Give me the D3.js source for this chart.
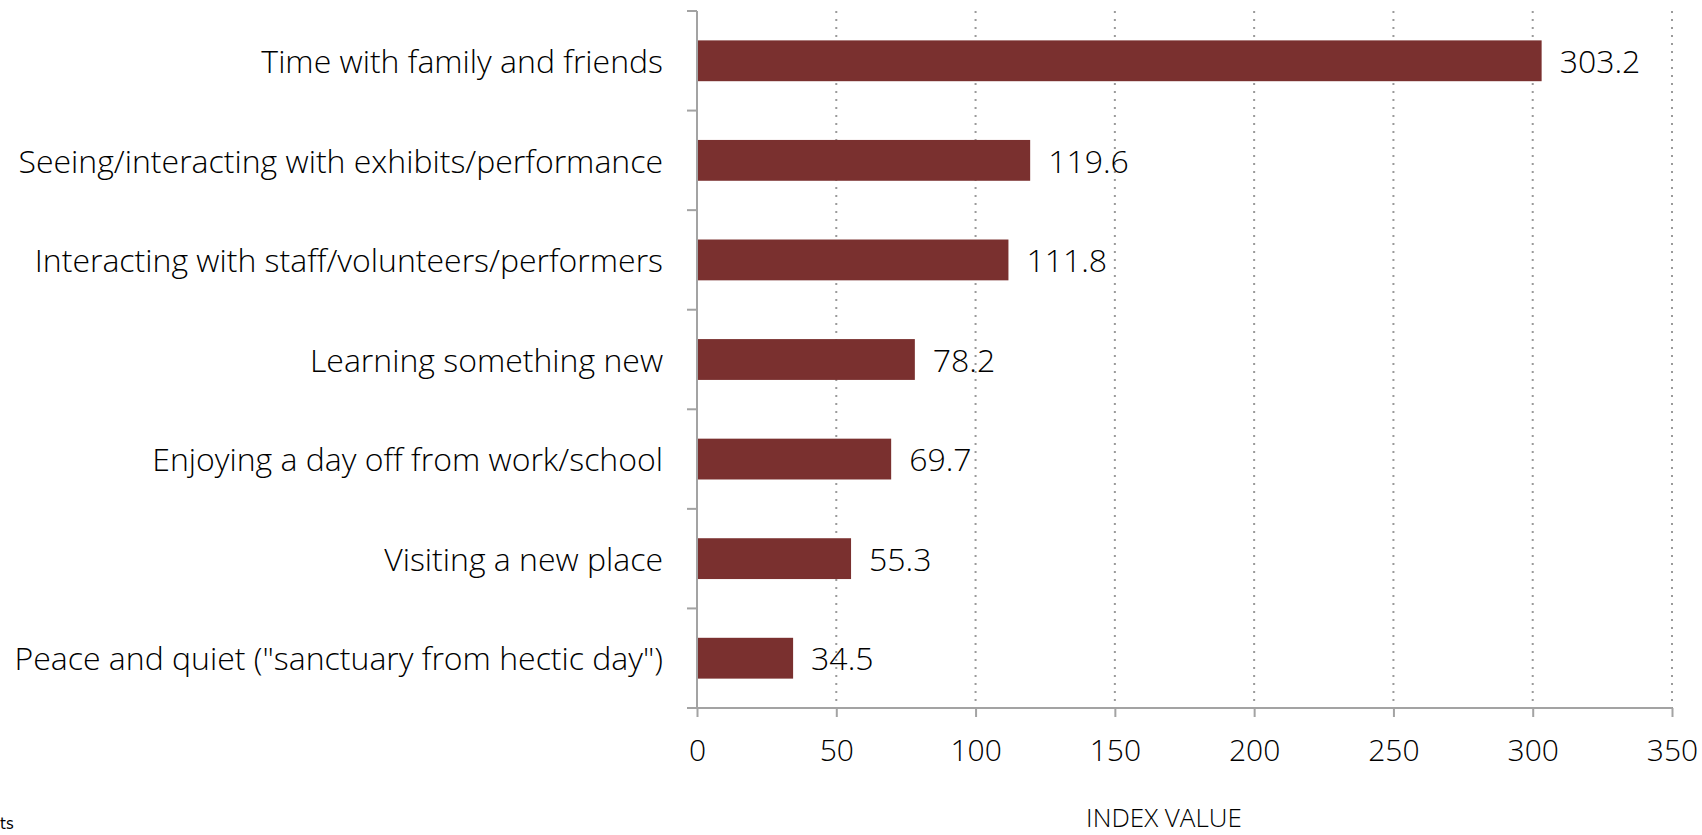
<!DOCTYPE html>
<html>
<head>
<meta charset="utf-8">
<script src="https://cdn.jsdelivr.net/npm/d3@7"></script>
<style>
  html, body { margin: 0; padding: 0; background: #fff; }
  svg { display: block; }
  text { font-family: "Open Sans", Lato, sans-serif; font-weight: 300; fill: #000; }
</style>
</head>
<body>
<svg id="chart" width="1702" height="835"></svg>
<script>
// Motivations for visiting, indexed
const categories = [
  "Time with family and friends",
  "Seeing/interacting with exhibits/performance",
  "Interacting with staff/volunteers/performers",
  "Learning something new",
  "Enjoying a day off from work/school",
  "Visiting a new place",
  "Peace and quiet (\"sanctuary from hectic day\")"
];
const values = [303.2, 119.6, 111.8, 78.2, 69.7, 55.3, 34.5];
const xTicks = [0, 50, 100, 150, 200, 250, 300, 350];
const xTitle = "INDEX VALUE";
const footNote = "ts";

const svg = d3.select("#chart");
const plotLeft = 697, plotRight = 1672, plotTop = 11, plotBottom = 708;
const axisColor = "#a3a3a3";
const barColor = "#7a302f";
const labelFont = "'Open Sans', Lato, sans-serif";

const x = d3.scaleLinear().domain([0, 350]).range([plotLeft, plotRight]);
const y = d3.scaleBand().domain(categories).range([plotTop, plotBottom])
  .paddingInner(0.59).paddingOuter(0.295);

// dotted vertical gridlines
svg.append("g").selectAll("line")
  .data(xTicks.filter(d => d > 0))
  .join("line")
  .attr("x1", d => x(d)).attr("x2", d => x(d))
  .attr("y1", plotTop).attr("y2", plotBottom)
  .attr("stroke", "#9a9a9a").attr("stroke-width", 2)
  .attr("stroke-dasharray", "2,6");

// bars
svg.append("g").selectAll("rect")
  .data(values)
  .join("rect")
  .attr("x", x(0))
  .attr("y", (d, i) => y(categories[i]))
  .attr("width", d => x(d) - x(0))
  .attr("height", y.bandwidth())
  .attr("fill", barColor);

// value labels
svg.append("g").selectAll("text")
  .data(values)
  .join("text")
  .attr("x", d => x(d) + 18)
  .attr("y", (d, i) => y(categories[i]) + y.bandwidth() / 2)
  .attr("dy", "0.38em")
  .attr("font-size", 32)
  .text(d => d.toFixed(1));

// x axis
const xAxis = svg.append("g")
  .attr("transform", `translate(0,${plotBottom})`)
  .call(d3.axisBottom(x).tickValues(xTicks).tickSize(9).tickPadding(23).tickSizeOuter(0));
xAxis.select(".domain").attr("stroke", axisColor).attr("stroke-width", 2)
  .attr("d", `M${plotLeft - 10},0H${plotRight}`);
xAxis.selectAll(".tick line").attr("stroke", axisColor).attr("stroke-width", 2);
xAxis.selectAll(".tick text").attr("font-size", 30).attr("font-family", labelFont)
  .attr("font-weight", 300).attr("fill", "#000");

// y axis: ticks mark band boundaries
const yAxis = svg.append("g").attr("transform", `translate(${plotLeft},0)`);
yAxis.append("line")
  .attr("x1", 0).attr("x2", 0).attr("y1", plotTop).attr("y2", plotBottom)
  .attr("stroke", axisColor).attr("stroke-width", 2);
const bounds = d3.range(categories.length + 1).map(i => plotTop + i * y.step());
yAxis.selectAll("line.b")
  .data(bounds)
  .join("line").attr("class", "b")
  .attr("x1", -10).attr("x2", 0)
  .attr("y1", d => d).attr("y2", d => d)
  .attr("stroke", axisColor).attr("stroke-width", 2);

// category labels
svg.append("g").selectAll("text")
  .data(categories)
  .join("text")
  .attr("x", 663)
  .attr("y", d => y(d) + y.bandwidth() / 2)
  .attr("dy", "0.38em")
  .attr("text-anchor", "end")
  .attr("font-size", 32)
  .text(d => d);

// axis title
svg.append("text")
  .attr("x", 1164).attr("y", 827)
  .attr("text-anchor", "middle")
  .attr("font-size", 26)
  .text(xTitle);

// clipped source note at bottom left
svg.append("text")
  .attr("x", 0).attr("y", 829)
  .attr("font-size", 15)
  .attr("fill", "#333")
  .style("font-family", "'DejaVu Sans', Verdana, sans-serif")
  .style("font-weight", 400)
  .text(footNote);
</script>
</body>
</html>
